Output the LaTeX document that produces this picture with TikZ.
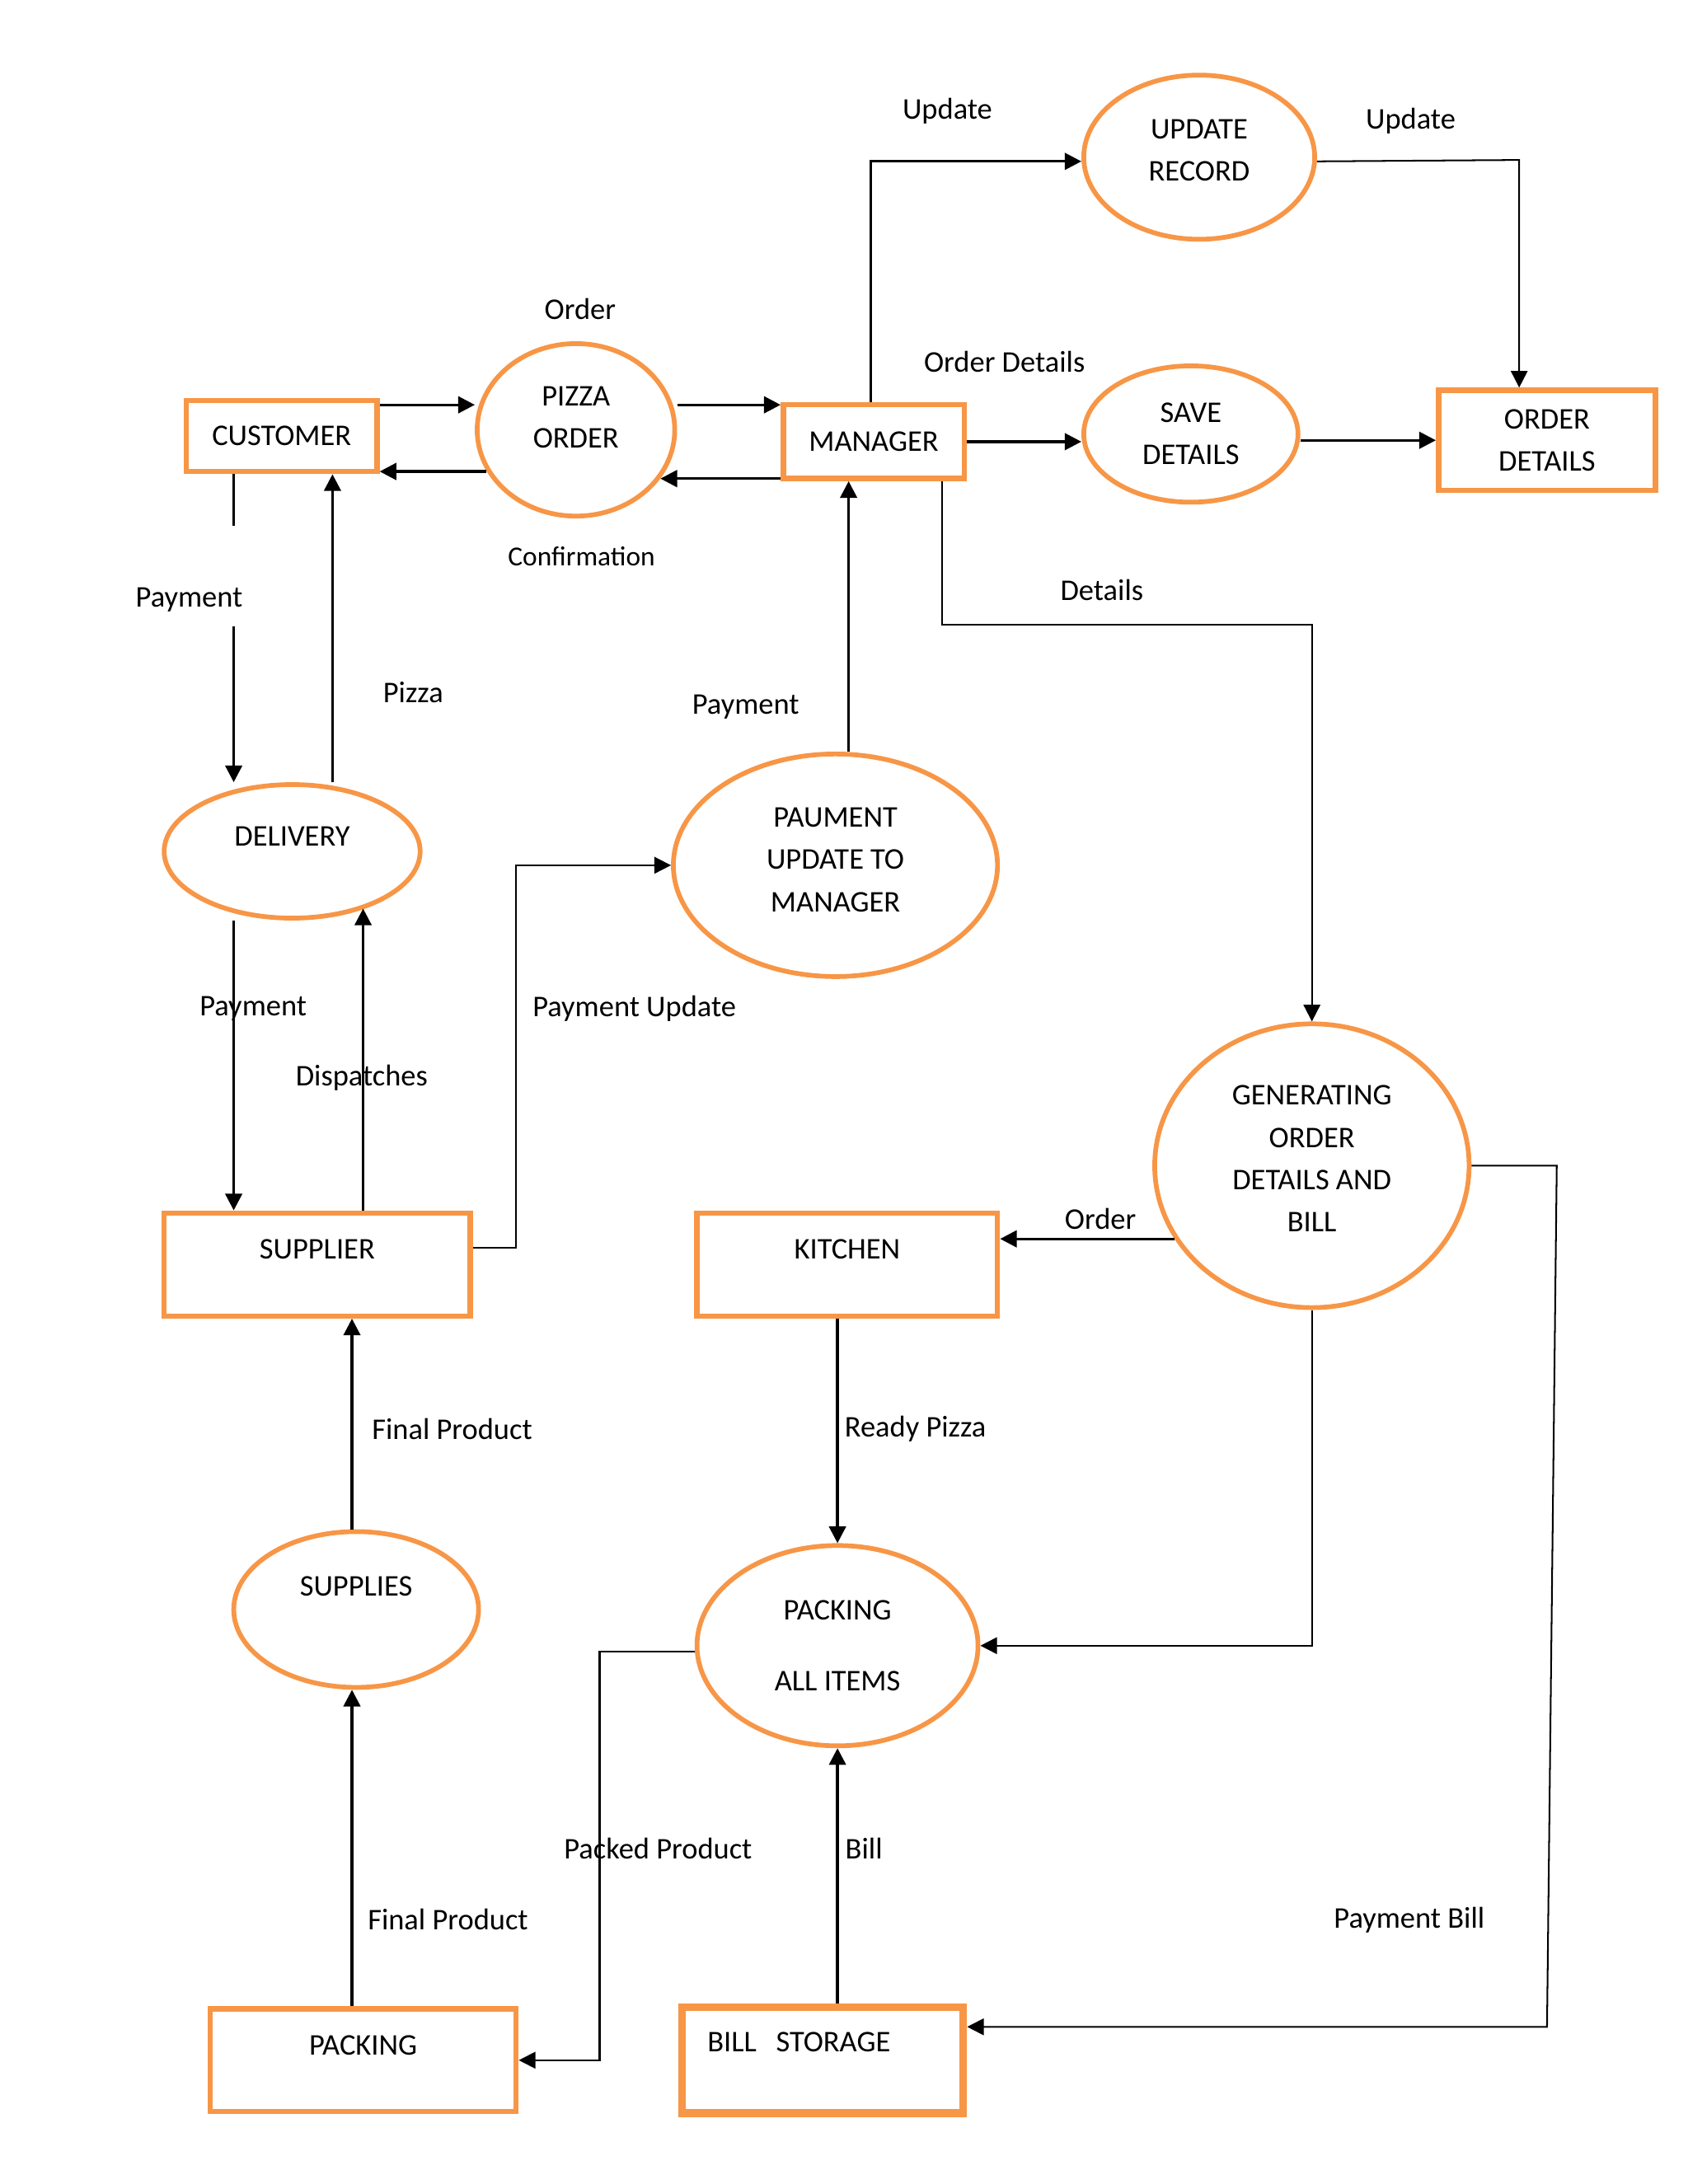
\documentclass[tikz,border=0pt]{standalone}
\usepackage{fontspec}
\setmainfont{Carlito}
\usetikzlibrary{shapes.geometric,arrows.meta}
\definecolor{dfdorange}{RGB}{247,150,70}
\begin{document}
\begin{tikzpicture}[x=0.5pt,y=-0.5pt,
      every node/.style={font=\fontsize{10.8}{15.2}\selectfont, inner sep=0pt, align=center},
      store/.style={rectangle, draw=dfdorange, line width=1.9pt},
      proc/.style={ellipse, draw=dfdorange, line width=1.7pt},
      flow/.style={line width=1pt, -{Triangle[length=6pt,width=6pt]}},
      flowthin/.style={line width=0.6pt, -{Triangle[length=6pt,width=6pt]}}]
      \useasboundingbox (0,0) rectangle (1213.3,1570);
      \node [store, minimum width=68.5pt, minimum height=25.5pt] (cust) at (202.5,313.5) {CUSTOMER};
      \node [proc, minimum width=71pt, minimum height=62pt] (pizza) at (414,309) {PIZZA\\ORDER\\[-6.2pt]\mbox{}};
      \node [store, minimum width=65pt, minimum height=26.5pt] (mgr) at (628,317.5) {MANAGER};
      \node [proc, minimum width=83pt, minimum height=59pt] (upd) at (862,113) {UPDATE\\RECORD\\[-10.2pt]\mbox{}};
      \node [proc, minimum width=77pt, minimum height=49pt] (save) at (856,312) {SAVE\\DETAILS};
      \node [store, minimum width=78pt, minimum height=36pt] (odet) at (1112,316.5) {ORDER\\DETAILS};
      \node [proc, minimum width=92pt, minimum height=48pt, text depth=11pt] (dlv) at (210,612) {DELIVERY};
      \node [proc, minimum width=116.5pt, minimum height=80pt] (pay) at (600.5,622) {PAUMENT\\UPDATE TO\\MANAGER\\[-11.2pt]\mbox{}};
      \node [proc, minimum width=113pt, minimum height=102pt] (gen) at (943,838) {GENERATING\\ORDER\\DETAILS AND\\BILL\\[-10.2pt]\mbox{}};
      \node [store, minimum width=110pt, minimum height=37pt, text depth=11pt] (splr) at (228,909) {SUPPLIER};
      \node [store, minimum width=108pt, minimum height=37pt, text depth=11pt] (kit) at (609,909) {KITCHEN};
      \node [proc, minimum width=88pt, minimum height=56pt, text depth=17pt] (sups) at (256,1157) {SUPPLIES};
      \node [proc, minimum width=101pt, minimum height=72pt] (pack) at (602,1183) {PACKING\\[10pt]ALL ITEMS};
      \node [store, minimum width=110pt, minimum height=37pt, text depth=11pt] (pkg) at (261,1481) {PACKING};
      \node [store, line width=2.7pt, text width=83pt, align=left, inner xsep=9pt, minimum height=38pt, text depth=13pt] (bill) at (591.5,1481) {BILL\hspace{7pt}STORAGE};
      \node (lord) at (417,222) {Order};
      \node [font=\fontsize{9.9}{12}\selectfont] (lconf) at (418,400) {Confirmation};
      \node (lupda) at (681,80) {Update};
      \node (lupdb) at (1014,87) {Update};
      \node (lodet) at (722,260) {Order Details};
      \node (ldet) at (792,424) {Details};
      \node (lpaya) at (136,431) {Payment};
      \node (lpizza) at (297,498) {Pizza};
      \node (lpayb) at (536,508) {Payment};
      \node (lpayc) at (182,725) {Payment};
      \node (lpayupd) at (456,725) {Payment Update};
      \node (ldisp) at (260,775) {Dispatches};
      \node (lordb) at (791,876) {Order};
      \node (lfina) at (325,1027) {Final Product};
      \node (lready) at (658,1027) {Ready Pizza};
      \node (lpacked) at (473,1329) {Packed Product};
      \node (lbill) at (621,1329) {Bill};
      \node (lfinb) at (322,1380) {Final Product};
      \node (lpaybill) at (1013,1380) {Payment Bill};
      \coordinate (gapa) at (168,378);
      \coordinate (gapb) at (168,450);
      \draw [flow] (cust.east |- 0,291) -- (pizza.west |- 0,291);
      \draw [flow] (pizza.205) -- (pizza.205 -| cust.east);
      \draw [flow] (pizza.east |- 0,291) -- (mgr.west |- 0,291);
      \draw [flow] (mgr.west |- pizza.-30) -- (pizza.-30);
      \draw [flow] (626,0 |- mgr.north) -- (626,116) -- (upd.west |- 0,116);
      \draw [flowthin] (upd.east |- 0,116) -- (1092,115) -- (1092,0 |- odet.north);
      \draw [flow] (mgr.east) -- (mgr.east -| save.west);
      \draw [flow] (save.east |- odet.west) -- (odet.west);
      \draw [flowthin] (677,0 |- mgr.south) -- (677,449) -| (gen.north);
      \draw [flow] (gen.208) -- (gen.208 -| kit.east);
      \draw [flowthin] (gen.east) -- (1119,838) -- (1112,1457) -- (bill.east |- 0,1457);
      \draw [flowthin] (gen.south) |- (pack.east);
      \draw [flow] (kit.south -| pack.north) -- (pack.north);
      \draw [flow] (bill.north -| pack.south) -- (pack.south);
      \draw [flowthin] (pack.west |- 0,1187) -- (431,1187) |- (pkg.east);
      \draw [flow] (253,0 |- pkg.north) -- (253,0 |- sups.south);
      \draw [flow] (253,0 |- sups.north) -- (253,0 |- splr.south);
      \draw [flow] (261,0 |- splr.north) -- (261,0 |- dlv.-38);
      \draw [flow] (168,0 |- dlv.south) -- (168,0 |- splr.north);
      \draw [flowthin] (splr.east |- 0,897) -- (371,897) |- (pay.west);
      \draw [flow] (610,0 |- pay.north) -- (610,0 |- mgr.south);
      \draw [flow] (239,0 |- dlv.north) -- (239,0 |- cust.south);
      \draw [line width=1pt] (gapa |- cust.south) -- (gapa);
      \draw [flow] (gapb) -- (gapb |- dlv.north);
\end{tikzpicture}
\end{document}
